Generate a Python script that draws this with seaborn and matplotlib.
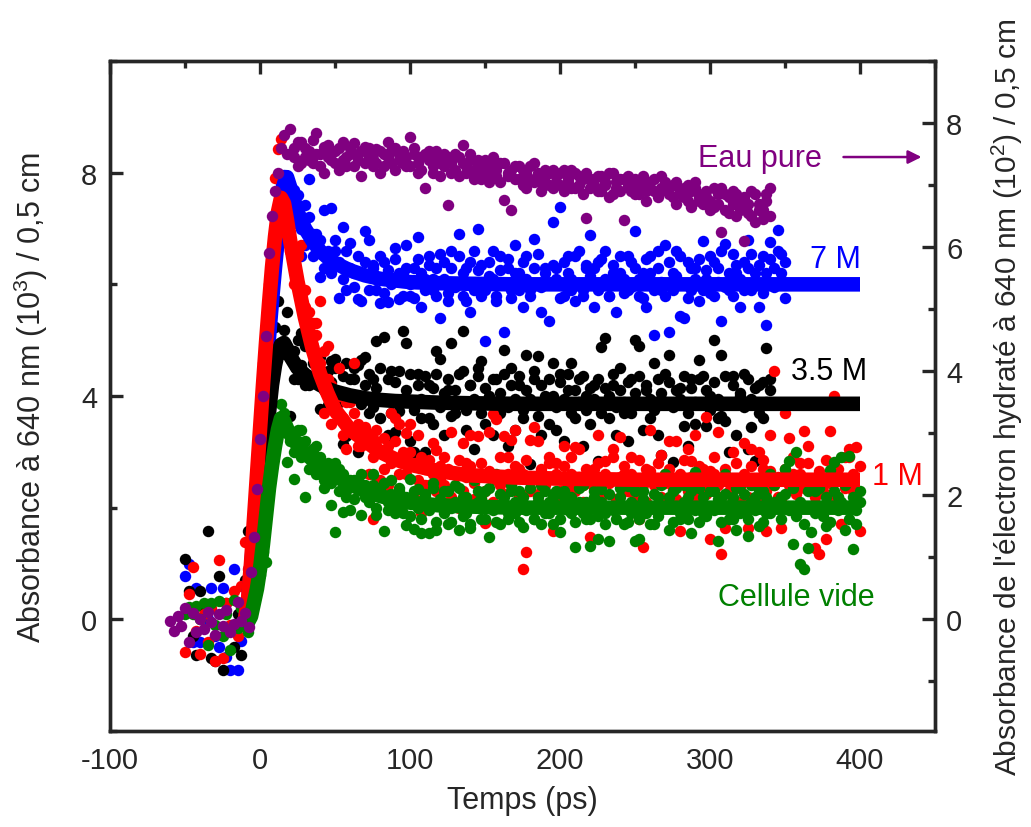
# Absorbance transitoire a 640 nm : eau pure et solutions (1 M, 3.5 M, 7 M) + cellule vide
import matplotlib
matplotlib.use("Agg")
import matplotlib.pyplot as plt
from matplotlib.ticker import MultipleLocator
import seaborn as sns

# ---- donnees (temps en ps) ----
t_pre = [-50, -47.5, -45, -42.5, -40, -37.5, -35, -32.5, -30, -27.5, -25, -22.5, -20, -17.5, -15, -12.5]
t_rise = [-10, -8, -6, -4, -2, 0, 2, 4, 6, 8, 10, 12, 14, 16, 18, 20]
t_decay = [22.5, 25, 27.5, 30, 32.5, 35, 37.5, 40, 42.5, 45,
           47.5, 50, 52.5, 55, 57.5, 60, 62.5, 65, 67.5, 70,
           72.5, 75, 77.5, 80, 82.5, 85, 87.5, 90, 92.5, 95,
           97.5, 100, 102.5, 105, 107.5, 110, 112.5, 115, 117.5, 120,
           122.5, 125, 127.5, 130, 132.5, 135, 137.5, 140, 142.5, 145,
           147.5, 150, 152.5, 155, 157.5, 160, 162.5, 165, 167.5, 170,
           172.5, 175, 177.5, 180, 182.5, 185, 187.5, 190, 192.5, 195,
           197.5, 200, 202.5, 205, 207.5, 210, 212.5, 215, 217.5, 220,
           222.5, 225, 227.5, 230, 232.5, 235, 237.5, 240, 242.5, 245,
           247.5, 250, 252.5, 255, 257.5, 260, 262.5, 265, 267.5, 270,
           272.5, 275, 277.5, 280, 282.5, 285, 287.5, 290, 292.5, 295,
           297.5, 300, 302.5, 305, 307.5, 310, 312.5, 315, 317.5, 320,
           322.5, 325, 327.5, 330, 332.5, 335, 337.5, 340, 342.5, 345,
           347.5, 350, 352.5, 355, 357.5, 360, 362.5, 365, 367.5, 370,
           372.5, 375, 377.5, 380, 382.5, 385, 387.5, 390, 392.5, 395,
           397.5, 400]

# 7 M (bleu), axe gauche
blue_y = [0.78, 1.0, -0.4, 0.57, -0.4, 0.2, 0.0, 0.57, -0.3, -0.5, 0.57, -0.68, -0.9, 0.9, -0.9, -0.39,
          0.2, 0.5, 1.1, 1.9, 2.5, 3.3, 4.1, 4.6, 5.4, 6.0, 6.6, 7.4, 7.8, 7.95, 7.7, 7.6,
          7.69, 7.2, 6.5, 7.42, 7.88, 6.9, 6.6, 6.14, 7.33, 6.3,
          7.37, 6.6, 5.76, 7.03, 5.9, 6.74, 6.2, 5.73, 5.7, 6.95,
          6.8, 6.3, 5.9, 5.67, 6.4, 5.68, 6.1, 6.65, 5.74, 6.2,
          6.7, 5.8, 6.3, 6.85, 5.6, 6.1, 6.5, 5.9, 6.3, 5.4,
          6.4, 5.7, 6.6, 6.0, 6.9, 5.8, 6.3, 5.5, 6.6, 7.0,
          5.8, 4.98, 6.4, 6.1, 5.7, 6.5, 5.14, 6.3, 5.9, 6.7,
          6.2, 5.6, 6.5, 5.9, 6.81, 6.0, 5.5, 6.3, 5.34, 7.12,
          6.3, 7.39, 5.8, 6.5, 6.1, 5.7, 6.6, 5.9, 6.3, 6.89,
          5.6, 6.4, 6.0, 6.6, 5.8, 6.2, 5.5, 6.5, 6.1, 5.9,
          6.4, 6.96, 5.8, 6.2, 5.6, 6.5, 5.1, 6.3, 5.9, 6.7,
          5.15, 6.2, 6.6, 5.43, 5.4, 6.4, 5.9, 6.3, 5.7, 6.77,
          6.1, 6.5, 5.8, 6.3, 5.34, 6.73, 5.9, 6.55, 6.2, 5.6,
          6.4, 6.8, 5.9, 6.2, 5.6, 6.5, 5.28, 6.75, 6.3, 6.98,
          6.55, 5.76]
blue_y2 = [7.1, 7.6, 7.0, 6.7, 7.2, 6.5, 6.9, 6.8, 6.3, 6.6,
           6.2, 6.8, 6.4, 6.1, 6.6, 6.3, 5.95, 6.5, 6.2, 6.4,
           5.9, 6.35, 6.1, 6.5, 5.85, 6.25, 6.0, 6.45, 6.2, 5.8,
           6.3, 6.0, 5.75, 6.45, 6.2, 5.9, 6.35, 6.1, 5.8, 6.55,
           6.1, 5.85, 6.3, 5.95, 6.5, 6.2, 5.7, 6.4, 5.9, 6.25,
           6.35, 5.9, 6.15, 6.6, 5.8, 6.25, 6.0, 6.45, 5.75, 6.2,
           5.9, 6.4, 6.1, 5.8, 6.3, 6.55, 5.95, 6.2, 6.0, 6.35,
           6.1, 5.75, 6.4, 6.2, 5.9, 6.5, 6.0, 5.8, 6.35, 6.15,
           6.3, 5.9, 6.45, 6.1, 5.8, 6.35, 6.0, 6.2, 5.85, 6.5,
           5.95, 6.3, 6.1, 5.75, 6.45, 6.2, 5.9, 6.6, 6.05, 5.8,
           6.4, 5.9, 6.15, 6.5, 6.0, 5.75, 6.3, 6.1, 6.45, 5.9,
           6.25, 5.85, 6.4, 6.05, 6.6, 5.95, 6.2, 5.8, 6.35, 6.1,
           5.9, 6.3, 6.55, 6.0, 6.35, 5.85, 6.2, 6.45, 5.95, 6.6,
           6.2, 6.4]

# 3.5 M (noir), axe gauche
black_y = [1.08, 0.5, -0.3, -0.64, 0.5, 0.2, 1.58, -0.7, -0.75, 0.77, -0.91, 0.3, -0.2, -0.5, 0.1, -0.64,
           0.7, 1.58, 0.6, 1.0, 1.5, 2.0, 2.6, 3.3, 3.9, 4.5, 5.23, 5.7, 4.8, 5.19, 5.5, 3.65,
           4.3, 5.0, 5.13, 4.2, 4.96, 3.05, 4.7, 3.76, 4.4, 3.84,
           4.63, 4.66, 3.9, 3.14, 3.28, 4.3, 4.5, 3.0, 4.65, 4.7,
           3.7, 4.3, 4.98, 3.6, 5.05, 3.3, 4.45, 3.36, 3.74, 5.16,
           4.95, 3.2, 3.0, 4.4, 3.6, 2.99, 4.2, 3.5, 4.8, 4.67,
           3.3, 4.1, 4.95, 3.7, 4.4, 5.16, 3.4, 4.2, 3.05, 4.5,
           4.63, 3.5, 4.0, 3.3, 4.3, 3.7, 4.83, 3.1, 4.5, 3.4,
           4.2, 3.6, 4.74, 2.78, 4.3, 4.72, 3.3, 4.0, 3.5, 4.6,
           3.4, 4.4, 3.2, 4.1, 4.6, 3.6, 4.3, 3.1, 4.0, 3.5,
           4.2, 2.84, 4.87, 5.04, 3.6, 4.2, 3.3, 4.5, 3.7, 3.2,
           4.3, 5.0, 4.89, 3.4, 4.1, 3.6, 4.6, 3.3, 2.95, 4.4,
           4.74, 2.81, 3.9, 4.15, 3.46, 3.1, 4.3, 3.5, 4.64, 4.36,
           3.46, 4.0, 5.01, 3.6, 4.74, 3.56, 2.99, 4.36, 3.3, 4.0,
           4.4, 3.05, 3.45, 2.84, 4.2, 3.6, 4.86, 4.3]
black_y2 = [4.8, 4.3, 4.55, 4.9, 4.2, 4.6, 4.35, 4.7, 4.1, 4.45,
            4.25, 4.5, 3.9, 4.35, 4.6, 4.0, 4.3, 4.55, 3.85, 4.2,
            4.4, 3.8, 4.15, 4.5, 3.95, 4.3, 3.7, 4.25, 4.45, 3.9,
            4.1, 4.4, 3.75, 4.2, 3.95, 4.35, 3.6, 4.15, 4.4, 3.8,
            4.05, 4.3, 3.65, 4.1, 3.9, 4.45, 3.75, 4.2, 3.95, 4.35,
            3.7, 4.15, 3.9, 4.3, 3.6, 4.05, 4.4, 3.8, 4.2, 3.95,
            4.35, 3.75, 4.1, 3.95, 4.45, 3.65, 4.2, 3.85, 4.3, 4.0,
            3.8, 4.25, 3.95, 4.4, 3.7, 4.1, 3.9, 4.35, 3.75, 4.15,
            3.95, 4.3, 3.7, 4.15, 4.0, 4.4, 3.8, 4.1, 3.9, 4.25,
            3.7, 4.05, 4.35, 3.85, 4.2, 3.95, 3.75, 4.3, 4.05, 3.9,
            4.25, 3.8, 4.1, 3.95, 4.35, 3.7, 4.15, 3.9, 4.3, 3.85,
            4.1, 3.75, 4.25, 3.95, 3.65, 4.35, 3.85, 4.2, 3.9, 4.05,
            3.8, 4.3, 3.95, 4.15, 3.7, 4.25, 3.9, 4.1]

# 1 M (rouge), axe gauche
red_y = [-0.58, 0.45, 0.94, -0.2, -0.62, 0.1, -0.4, 0.2, -0.75, 1.07, -0.7, 0.3, -0.1, 0.5, -0.3, 0.6,
         1.38, 0.9, 1.3, 2.0, 2.9, 3.6, 4.6, 5.2, 6.0, 6.6, 7.9, 8.43, 8.61, 7.6, 7.3, 6.6,
         6.4, 6.5, 6.7, 5.6, 5.2, 5.3, 5.3, 5.7, 3.7, 4.9,
         3.5, 3.8, 4.5, 3.3, 3.05, 3.9, 4.6, 3.1, 3.3, 3.45,
         2.6, 1.8, 3.4, 2.5, 3.25, 2.4, 3.7, 3.6, 3.5, 2.9,
         3.33, 3.5, 2.2, 3.3, 1.9, 2.7, 2.4, 3.16, 3.04, 2.5,
         2.9, 2.3, 3.35, 2.6, 2.0, 3.16, 2.8, 3.3, 2.45, 3.28,
         2.2, 1.72, 3.35, 3.67, 3.58, 2.4, 3.28, 2.9, 3.22, 3.4,
         2.7, 0.9, 1.2, 3.22, 3.45, 3.2, 2.3, 2.0, 2.9, 1.58,
         2.8, 2.3, 3.1, 2.1, 2.6, 3.08, 3.05, 2.4, 1.9, 1.47,
         2.7, 3.3, 2.2, 2.84, 2.5, 3.05, 2.0, 3.26, 2.6, 2.3,
         2.9, 2.2, 1.8, 1.29, 2.7, 3.4, 2.4, 2.0, 2.95, 2.6,
         3.2, 2.3, 3.2, 1.59, 2.5, 3.05, 2.84, 3.3, 2.2, 2.7,
         3.62, 1.44, 2.6, 3.35, 1.17, 1.63, 2.3, 3.0, 2.5, 2.1,
         3.16, 1.63, 3.05, 2.4, 3.0, 2.7, 1.59, 3.3, 4.45, 2.2,
         1.63, 3.7, 3.24, 2.6, 2.0, 2.8, 3.38, 3.1, 2.3, 1.28,
         1.17, 2.5, 1.43, 3.38, 4.0, 2.2, 1.7, 2.9, 3.05, 2.3,
         3.08, 1.59]
red_y2 = [6.0, 6.6, 5.7, 5.9, 5.5, 4.9, 5.1, 4.6, 4.8, 4.3,
          4.2, 3.7, 4.0, 3.6, 3.9, 3.4, 3.7, 3.5, 3.1, 3.4,
          3.3, 2.9, 3.2, 3.0, 2.7, 3.1, 2.8, 3.2, 2.6, 3.0,
          2.6, 3.0, 2.8, 2.5, 2.9, 2.4, 2.85, 2.6, 2.3, 2.75,
          2.4, 2.7, 2.2, 2.6, 2.85, 2.3, 2.55, 2.75, 2.15, 2.6,
          2.8, 2.3, 2.65, 2.1, 2.5, 2.9, 2.25, 2.6, 2.4, 2.75,
          2.2, 2.6, 2.85, 2.3, 2.55, 2.1, 2.7, 2.4, 2.8, 2.25,
          2.6, 2.15, 2.75, 2.4, 2.9, 2.3, 2.55, 2.1, 2.7, 2.45,
          2.35, 2.8, 2.2, 2.6, 2.45, 2.9, 2.15, 2.55, 2.75, 2.3,
          2.6, 2.25, 2.85, 2.4, 2.1, 2.65, 2.5, 2.8, 2.2, 2.45,
          2.7, 2.35, 2.15, 2.6, 2.85, 2.3, 2.55, 2.2, 2.75, 2.4,
          2.25, 2.65, 2.9, 2.4, 2.2, 2.7, 2.5, 2.15, 2.8, 2.35,
          2.6, 2.2, 2.75, 2.45, 2.1, 2.85, 2.3, 2.65, 2.4, 2.55,
          2.15, 2.7, 2.4, 2.9, 2.25, 2.6, 2.35, 2.8, 2.5, 2.2,
          2.65, 2.3, 2.85, 2.45, 2.2, 2.7, 2.5, 2.35, 2.9, 2.6,
          2.3, 2.75]

# cellule vide (vert), axe gauche
green_y = [0.1, 0.22, 0.1, 0.24, 0.0, 0.3, -0.46, 0.3, -0.1, 0.32, -0.3, 0.1, -0.55, 0.35, -0.15, 0.2,
           -0.1, -0.22, 0.1, 0.4, 0.7, 0.8, 1.2, 1.02, 2.5, 2.9, 3.3, 3.5, 3.85, 3.7, 2.81, 3.2,
           2.51, 3.2, 3.4, 2.2, 3.0, 2.97, 3.1, 2.6, 2.35, 2.8,
           2.04, 1.56, 2.7, 1.92, 2.3, 1.95, 2.5, 2.5, 1.87, 2.4,
           2.2, 2.6, 1.87, 2.35, 1.59, 2.1, 2.49, 2.0, 2.3, 1.9,
           1.69, 2.51, 1.62, 2.33, 1.55, 2.2, 1.55, 2.45, 1.6, 2.1,
           2.3, 1.71, 2.0, 2.4, 1.6, 2.2, 1.9, 1.63, 2.5, 2.1,
           1.8, 2.3, 1.47, 2.0, 2.6, 1.71, 2.2, 1.9, 2.4, 2.1,
           2.3, 1.66, 2.0, 2.5, 1.8, 2.2, 2.4, 1.9, 2.1, 1.71,
           2.3, 1.57, 2.2, 2.5, 1.9, 1.29, 2.1, 2.4, 1.8, 1.32,
           2.2, 1.43, 2.33, 1.9, 1.4, 2.5, 2.0, 2.2, 1.7, 2.39,
           2.1, 1.4, 1.43, 2.3, 1.9, 2.5, 1.71, 2.2, 2.0, 2.6,
           1.6, 2.3, 2.0, 1.8, 2.4, 2.2, 1.55, 2.63, 2.36, 1.9,
           2.5, 2.0, 2.3, 1.41, 2.1, 2.6, 1.8, 2.2, 1.6, 2.4,
           2.0, 1.5, 2.4, 2.2, 1.68, 2.3, 1.9, 2.6, 2.1, 2.5,
           2.2, 2.69, 2.84, 1.35, 2.99, 0.99, 0.9, 1.28, 1.57, 2.3,
           2.0, 2.5, 1.68, 2.68, 2.81, 2.2, 2.9, 1.6, 2.93, 1.26,
           1.7, 2.1]
green_y2 = [3.0, 3.4, 2.9, 3.2, 2.7, 3.05, 2.6, 2.9, 2.5, 2.75,
            2.45, 2.8, 2.3, 2.6, 2.2, 2.5, 2.15, 2.45, 2.6, 2.2,
            2.1, 2.4, 2.0, 2.3, 2.45, 1.95, 2.25, 1.9, 2.35, 2.05,
            2.2, 1.85, 2.3, 2.0, 1.8, 2.25, 1.95, 2.35, 1.75, 2.15,
            1.9, 2.3, 1.75, 2.1, 2.35, 1.85, 2.2, 1.7, 2.05, 2.3,
            2.15, 1.8, 2.35, 1.95, 1.75, 2.25, 2.05, 1.8, 2.3, 1.9,
            1.75, 2.2, 1.95, 2.35, 1.8, 2.1, 1.7, 2.3, 1.9, 2.2,
            2.05, 1.8, 2.3, 1.95, 2.2, 1.75, 2.35, 1.9, 2.1, 1.8,
            2.3, 1.85, 2.1, 1.7, 2.25, 1.95, 1.8, 2.35, 2.0, 1.75,
            1.9, 2.3, 1.8, 2.15, 1.95, 1.7, 2.25, 1.85, 2.4, 2.0,
            2.2, 1.75, 2.35, 1.9, 2.1, 1.8, 2.3, 1.95, 1.75, 2.2,
            1.85, 2.3, 1.95, 2.15, 1.75, 2.25, 2.05, 1.8, 2.35, 1.9,
            2.25, 1.8, 2.1, 1.95, 2.3, 1.75, 2.2, 1.9, 2.4, 2.0,
            1.8, 2.25, 1.95, 2.35, 1.85, 2.1, 1.7, 2.3, 2.0, 1.9,
            2.35, 1.85, 2.2, 1.75, 2.3, 1.95, 2.1, 2.4, 1.8, 2.2,
            1.95, 2.3]

# eau pure (violet), axe droit
t_purple_pre = [-60, -57.5, -55, -52.5, -50, -47.5, -45, -42.5, -40, -37.5, -35,
                -32.5, -30, -27.5, -25, -22.5, -20, -17.5, -15, -12.5, -10, -7.5]
t_purple_rise = [-6, -4, -2, 0, 2, 4, 6, 8, 10, 12, 14, 16, 18, 20]
purple_y = [-0.03, -0.19, 0.05, -0.1, 0.19, -0.37, 0.1, -0.2, 0.0, -0.15, 0.12,
            -0.05, -0.25, 0.08, -0.1, 0.15, -0.2, -0.08, 0.28, -0.02, 0.1, -0.12,
            0.77, 1.33, 2.1, 2.9, 3.6, 4.56, 5.9, 6.5, 6.9, 7.2, 7.6, 7.8, 7.5, 7.9,
            7.6, 7.3, 7.7, 7.45, 7.55, 7.35, 7.84, 7.5, 7.2, 7.65,
            7.4, 7.55, 7.25, 7.7, 7.45, 7.6, 7.3, 7.5, 7.15, 7.62,
            7.45, 7.3, 7.58, 7.2, 7.5, 7.7, 7.35, 7.6, 7.4, 7.55,
            7.3, 7.77, 7.5, 7.2, 7.45, 6.95, 7.55, 7.3, 7.4, 7.15,
            7.5, 6.68, 7.35, 7.25, 7.45, 7.64, 7.2, 7.4, 7.1, 7.3,
            7.25, 7.4, 7.05, 7.3, 7.15, 7.35, 6.76, 7.2, 6.6, 7.3,
            7.1, 7.25, 6.95, 7.3, 7.05, 7.2, 6.9, 7.15, 7.0, 7.25,
            7.05, 7.2, 6.9, 7.1, 7.25, 6.95, 7.15, 6.85, 6.47, 7.1,
            7.0, 7.15, 6.9, 7.05, 6.8, 7.2, 6.95, 7.1, 6.43, 7.0,
            6.9, 7.1, 6.85, 7.0, 6.75, 7.05, 6.9, 6.8, 7.15, 6.95,
            6.85, 7.0, 6.7, 6.9, 6.8, 7.0, 6.65, 6.95, 6.75, 6.85,
            6.8, 6.6, 6.95, 6.7, 6.24, 6.85, 6.55, 6.9, 6.5, 6.75,
            6.1, 6.7, 6.5, 6.85, 6.6, 6.45, 6.75, 6.95]
purple_y2 = [7.45, 7.7, 7.35, 7.6, 7.4, 7.72, 7.5, 7.3, 7.62, 7.45,
             7.55, 7.35, 7.6, 7.4, 7.3, 7.5, 7.68, 7.4, 7.55, 7.35,
             7.6, 7.42, 7.35, 7.55, 7.3, 7.45, 7.55, 7.25, 7.5, 7.35,
             7.45, 7.3, 7.6, 7.35, 7.25, 7.5, 7.4, 7.2, 7.55, 7.35,
             7.3, 7.45, 7.2, 7.5, 7.15, 7.35, 7.3, 7.5, 7.25, 7.4,
             7.1, 7.3, 7.2, 7.45, 7.25, 7.05, 7.35, 7.15, 7.25, 7.1,
             7.3, 7.0, 7.2, 7.1, 7.35, 7.15, 7.05, 7.25, 7.2, 6.95,
             7.15, 7.0, 7.25, 7.05, 6.95, 7.2, 7.0, 7.1, 7.2, 6.95,
             7.1, 6.9, 7.15, 7.0, 7.2, 6.85, 7.05, 6.9, 7.1, 7.15,
             7.05, 6.85, 7.0, 7.15, 6.9, 6.95, 7.1, 6.85, 6.95, 7.05,
             6.95, 6.8, 7.05, 6.85, 6.95, 6.75, 6.9, 7.05, 6.8, 6.7,
             6.9, 6.75, 6.65, 6.85, 6.95, 6.6, 6.8, 6.7, 6.85, 6.6,
             6.8, 6.55, 6.9, 6.4, 6.7, 6.6, 6.85, 6.5]

# courbes ajustees
fit_t = [-10, -8, -6, -4, -2, 0, 2, 4, 6, 8, 10, 12, 14, 16, 18, 20, 25, 30, 35, 40,
         45, 50, 60, 70, 80, 90, 100, 120, 140, 170, 200, 250, 300, 350, 400]
blue_fit = [0.0, 0.3, 0.9, 1.6, 2.3, 3.0, 3.7, 4.4, 5.05, 5.7, 6.3, 6.85, 7.35, 7.8, 7.92, 7.75, 7.3, 7.0, 6.78, 6.6,
            6.48, 6.38, 6.25, 6.16, 6.1, 6.07, 6.04, 6.02, 6.01, 6.0, 6.0, 6.0, 6.0, 6.0, 6.0]
black_fit = [0.0, 0.1, 0.35, 0.7, 1.1, 1.6, 2.3, 3.0, 3.7, 4.2, 4.55, 4.8, 4.92, 4.95, 4.85, 4.72, 4.5, 4.38, 4.28, 4.2,
             4.13, 4.08, 4.01, 3.96, 3.93, 3.91, 3.9, 3.88, 3.87, 3.86, 3.86, 3.86, 3.86, 3.86, 3.86]
red_fit = [0.0, 0.35, 1.0, 1.8, 2.6, 3.4, 4.2, 4.95, 5.65, 6.3, 6.85, 7.3, 7.55, 7.45, 7.15, 6.8, 6.05, 5.4, 4.85, 4.4,
           4.05, 3.75, 3.4, 3.2, 3.0, 2.87, 2.77, 2.65, 2.58, 2.54, 2.52, 2.5, 2.5, 2.5, 2.5]
green_fit = [-0.05, -0.05, 0.05, 0.3, 0.55, 0.9, 1.35, 1.85, 2.35, 2.75, 3.1, 3.4, 3.6, 3.55, 3.42, 3.32, 3.12, 2.98, 2.86, 2.75,
             2.66, 2.57, 2.42, 2.3, 2.21, 2.14, 2.09, 2.04, 2.02, 2.0, 2.0, 2.0, 2.0, 2.0, 2.0]

# ---- style ----
sns.set_style("white")
plt.rcParams['font.family'] = ['Liberation Sans', 'DejaVu Sans']
plt.rcParams['mathtext.fontset'] = 'custom'
plt.rcParams['mathtext.rm'] = 'Liberation Sans'
plt.rcParams['axes.unicode_minus'] = False

fig = plt.figure(figsize=(10.31, 8.28), dpi=100)
ax = fig.add_axes([110 / 1031, 96 / 828, 825 / 1031, 670 / 828])

dot = 68
lw_fit = 10.5
series = [("#0000ff", t_pre + t_rise + t_decay[:132] + t_decay[:132], blue_y + blue_y2, blue_fit),
          ("#000000", t_pre + t_rise + t_decay[:128] + t_decay[:128], black_y + black_y2, black_fit),
          ("#ff0000", t_pre + t_rise + t_decay + t_decay, red_y + red_y2, red_fit),
          ("#008000", t_pre + t_rise + t_decay + t_decay, green_y + green_y2, green_fit)]
for col, tt, yy, ff in series:
    sns.scatterplot(x=tt, y=yy, color=col, s=dot, linewidth=0, ax=ax)
    sns.lineplot(x=fit_t, y=ff, color=col, lw=lw_fit, ax=ax, solid_capstyle='butt')

ax.set_xlim(-100, 450)
ax.set_ylim(-2, 10)
ax.set_xticks([-100, 0, 100, 200, 300, 400])
ax.xaxis.set_minor_locator(MultipleLocator(50))
ax.set_yticks([0, 4, 8])
ax.yaxis.set_minor_locator(MultipleLocator(2))
ax.tick_params(which='both', direction='in', top=True, right=False, width=2.4, labelsize=21)
ax.tick_params(which='major', length=9.5)
ax.tick_params(which='minor', length=5)
ax.tick_params(axis='x', pad=11)
ax.tick_params(axis='y', pad=9)
for sp in ax.spines.values():
    sp.set_linewidth(2.4)
    sp.set_color('black')

ax.set_xlabel("Temps (ps)", fontsize=22, labelpad=8)
ax.set_ylabel(r"Absorbance à 640 nm (10$\mathregular{^3}$) / 0,5 cm", fontsize=22, va='center')
ax.yaxis.set_label_coords(-0.096, 0.5)

# axe droit : eau pure
ax2 = ax.twinx()
sns.scatterplot(x=t_purple_pre + t_purple_rise + t_decay[:128] + t_decay[:128],
                y=purple_y + purple_y2, color="#800080", s=dot, linewidth=0, ax=ax2)
ax2.set_ylim(-1.8, 9)
ax2.set_yticks([0, 2, 4, 6, 8])
ax2.yaxis.set_minor_locator(MultipleLocator(1))
ax2.tick_params(which='both', direction='in', width=2.4, labelsize=21, pad=8)
ax2.tick_params(which='major', length=9.5)
ax2.tick_params(which='minor', length=5)
ax2.set_ylabel(r"Absorbance de l'électron hydraté à 640 nm (10$\mathregular{^2}$) / 0,5 cm",
               fontsize=21.5, rotation=90, va='center')
ax2.yaxis.set_label_coords(1.088, 0.5)
for sp in ax2.spines.values():
    sp.set_linewidth(2.4)

# annotations
ax.text(292, 8.26, "Eau pure", color="#800080", fontsize=22, ha='left', va='center')
ax.annotate("", xy=(441, 8.28), xytext=(389, 8.28),
            arrowprops=dict(arrowstyle='-|>', color="#800080", lw=1.8, mutation_scale=20,
                            shrinkA=0, shrinkB=0))
ax.text(367, 6.46, "7 M", color="#0000ff", fontsize=22, ha='left', va='center')
ax.text(354, 4.45, "3.5 M", color="#000000", fontsize=22, ha='left', va='center')
ax.text(408, 2.57, "1 M", color="#ff0000", fontsize=22, ha='left', va='center')
ax.text(305, 0.4, "Cellule vide", color="#008000", fontsize=22, ha='left', va='center')

fig.savefig("out.png", dpi=100)
